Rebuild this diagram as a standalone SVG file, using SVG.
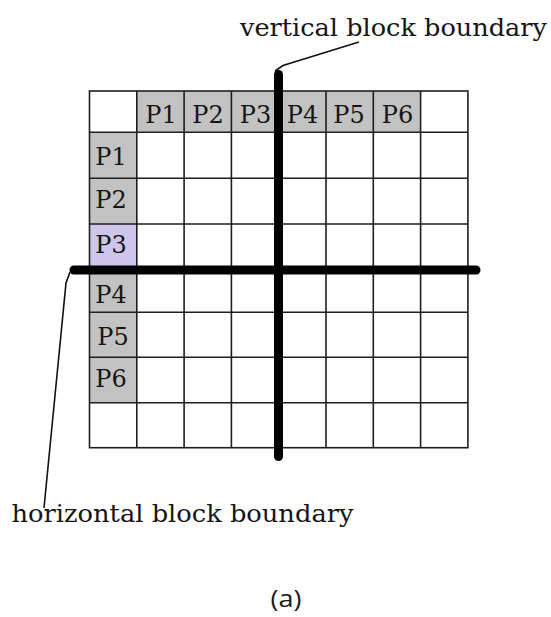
<svg xmlns="http://www.w3.org/2000/svg" width="551" height="617" viewBox="0 0 551 617">
<style>
.hdr{fill:#c2c2c2}
.lav{fill:#cdc6ea}
.grid{stroke:#1e1e1e;stroke-width:1.6;fill:none}
.thick{stroke:#000;stroke-width:9;stroke-linecap:round;fill:none}
.lead{stroke:#111;stroke-width:1.6;fill:none}
.lbl{font-family:"DejaVu Serif","Liberation Serif",serif;font-size:24px;fill:#151515;text-anchor:middle}
.note{font-family:"DejaVu Serif","Liberation Serif",serif;font-size:25px;fill:#151515}
.cap{font-family:"Open Sans","Liberation Sans",sans-serif;font-size:23px;fill:#1a1a1a}
</style>
<rect width="551" height="617" fill="#fff"/>
<g id="cells">
<rect class="hdr" x="136.8" y="91" width="283.8" height="41.3"/>
<rect class="hdr" x="89.5" y="132.3" width="47.3" height="91.7"/>
<rect class="lav" x="89.5" y="224" width="47.3" height="45"/>
<rect class="hdr" x="89.5" y="269" width="47.3" height="133.7"/>
</g>
<g id="grid">
<rect class="grid" x="89.5" y="91" width="378.4" height="356.7"/>
<path class="grid" d="M136.8 91V447.7M184.1 91V447.7M231.4 91V447.7M278.7 91V447.7M326 91V447.7M373.3 91V447.7M420.6 91V447.7"/>
<path class="grid" d="M89.5 132.3H467.9M89.5 178.3H467.9M89.5 224H467.9M89.5 269H467.9M89.5 312.3H467.9M89.5 357.3H467.9M89.5 402.7H467.9"/>
</g>
<g id="labels">
<text class="lbl" x="161" y="123">P1</text>
<text class="lbl" x="208" y="123">P2</text>
<text class="lbl" x="255.5" y="123">P3</text>
<text class="lbl" x="302.5" y="123">P4</text>
<text class="lbl" x="349" y="123">P5</text>
<text class="lbl" x="397.5" y="123">P6</text>
<text class="lbl" x="111" y="165">P1</text>
<text class="lbl" x="111" y="208">P2</text>
<text class="lbl" x="111" y="253">P3</text>
<text class="lbl" x="111" y="303">P4</text>
<text class="lbl" x="113" y="345">P5</text>
<text class="lbl" x="111" y="387">P6</text>
</g>
<g id="connectors">
<line id="vertical-boundary" class="thick" x1="278.5" y1="74.5" x2="278.5" y2="456.5"/>
<line id="horizontal-boundary" class="thick" x1="74" y1="270" x2="476" y2="270"/>
<polyline class="lead" points="275,71 283,65.5 359,42"/>
<polyline class="lead" points="70,272 66,283 44,508"/>
</g>
<g id="annotations">
<text class="note" x="240" y="36" textLength="307" lengthAdjust="spacingAndGlyphs">vertical block boundary</text>
<text class="note" x="11.5" y="522" textLength="342" lengthAdjust="spacingAndGlyphs">horizontal block boundary</text>
<text class="cap" x="270.5" y="607" textLength="31" lengthAdjust="spacingAndGlyphs">(a)</text>
</g>
</svg>
